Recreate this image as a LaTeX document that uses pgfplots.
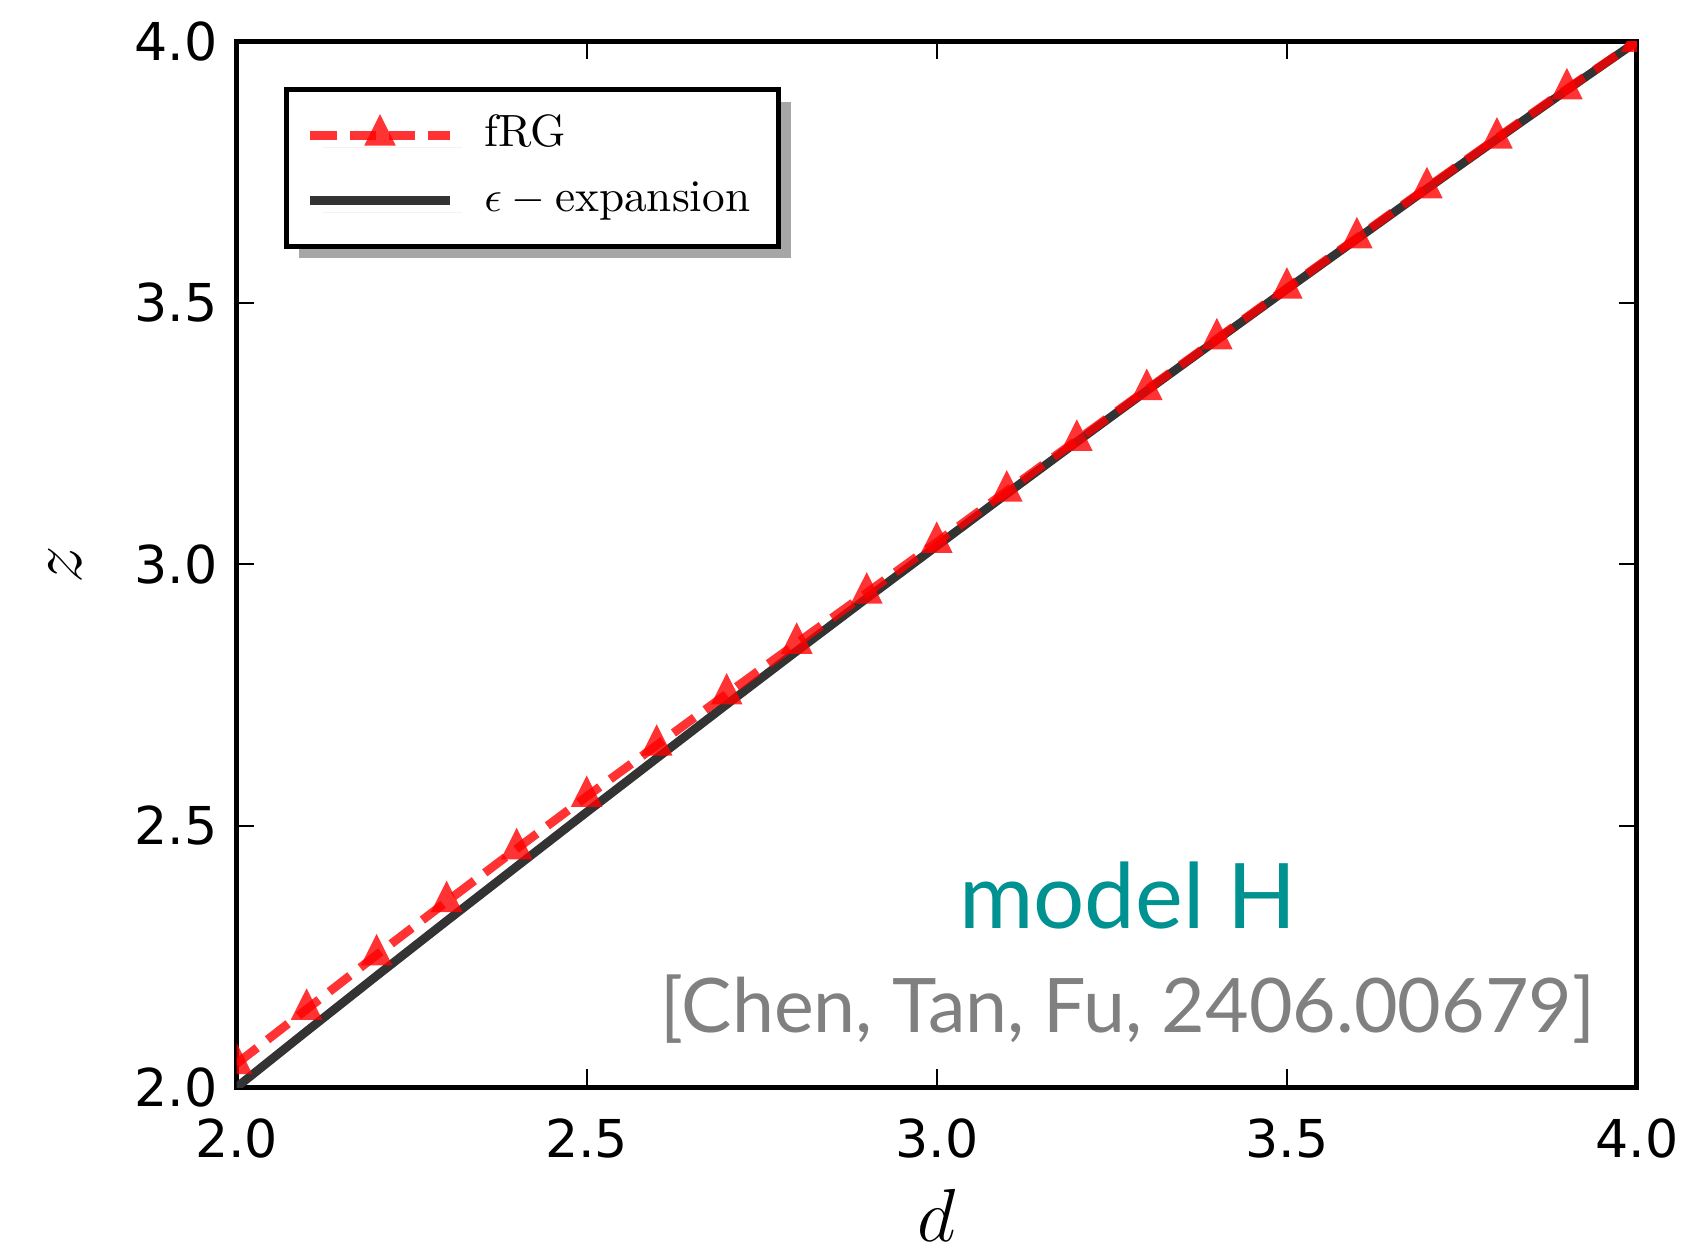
\documentclass[border=0pt]{standalone}
\usepackage{pgfplots}
\pgfplotsset{compat=1.18}
\usepackage{fontspec}
\newfontfamily\dejavu{DejaVu Sans}
\newfontfamily\lato{Lato}
\usetikzlibrary{shadows}
\definecolor{tealH}{RGB}{0,145,145}
\definecolor{citegray}{RGB}{128,128,128}
\begin{document}
\begin{tikzpicture}
\begin{axis}[name=ax,
  width=322pt, height=240.5pt, scale only axis,
  xmin=2, xmax=4, ymin=2, ymax=4,
  xtick={2,2.5,3,3.5,4}, ytick={2,2.5,3,3.5,4},
  axis line style={line width=1.15pt},
  every tick/.style={black, line width=0.5pt},
  major tick length=4.1pt,
  tick align=inside,
  clip marker paths=true,
  xticklabel style={font=\dejavu\fontsize{12}{14}\selectfont, yshift=-3.7pt},
  yticklabel style={font=\dejavu\fontsize{12}{14}\selectfont, xshift=-0.8pt},
  /pgf/number format/fixed,
  /pgf/number format/fixed zerofill,
  /pgf/number format/precision=1,
  /pgf/number format/assume math mode=true,
  reverse legend,
  legend cell align=left,
  legend image code/.code={\draw[mark repeat=2,mark phase=2,#1] plot coordinates {(0pt,0pt) (16pt,0pt) (32pt,0pt)};},
  legend style={at={(rel axis cs:0,1)}, anchor=north west, xshift=10.9pt, yshift=-10.5pt,
    draw=black, line width=1.15pt, fill=white,
    inner xsep=4.5pt, inner ysep=4pt, row sep=2pt, column sep=5pt,
    font=\fontsize{10.4}{12}\selectfont,
    nodes={inner sep=2pt, text height=7pt, text depth=2pt},
    drop shadow={shadow xshift=2.8pt, shadow yshift=-2.8pt, fill=black!35, opacity=1, draw=none}},
]
\addplot[color=black!80, line width=2pt] coordinates {
(2.0,2.000) (2.1,2.107) (2.2,2.213) (2.3,2.318) (2.4,2.422) (2.5,2.526)
(2.6,2.629) (2.7,2.732) (2.8,2.834) (2.9,2.935) (3.0,3.035) (3.1,3.135)
(3.2,3.234) (3.3,3.332) (3.4,3.429) (3.5,3.526) (3.6,3.622) (3.7,3.718)
(3.8,3.813) (3.9,3.907) (4.0,4.000)
};
\addlegendentry{$\epsilon-{}$expansion}
\addplot[color=red, opacity=0.8, line width=2pt, dash pattern=on 6pt off 3pt,
  mark=triangle*, mark size=4.2pt, mark options={solid, draw opacity=0, line width=0pt, fill=red, yscale=1.15}] coordinates {
(2.0,2.045) (2.1,2.149) (2.2,2.253) (2.3,2.355) (2.4,2.456) (2.5,2.556)
(2.6,2.654) (2.7,2.752) (2.8,2.849) (2.9,2.945) (3.0,3.042) (3.1,3.140)
(3.2,3.237) (3.3,3.334) (3.4,3.431) (3.5,3.528) (3.6,3.624) (3.7,3.720)
(3.8,3.815) (3.9,3.909) (4.0,4.000)
};
\addlegendentry{fRG}
\node[font=\lato\fontsize{20.8}{24}\selectfont, text=tealH, anchor=base] at (rel axis cs:0.6366,0.1515) {model H};
\node[font=\lato\fontsize{17.3}{21}\selectfont, text=citegray, anchor=base] at (rel axis cs:0.6366,0.0521) {[Chen, Tan, Fu, 2406.00679]};
\end{axis}
\node[anchor=base, font=\fontsize{17}{20}\selectfont] at ([yshift=-35.5pt]ax.south) {$d$};
\node[anchor=base, rotate=90, font=\fontsize{17}{20}\selectfont] at ([xshift=-35.7pt]ax.west) {$z$};
\pgfresetboundingbox
\path ([shift={(-54.4pt,-37.6pt)}]ax.south west) rectangle ([shift={(12.2pt,9.5pt)}]ax.north east);
\end{tikzpicture}
\end{document}
